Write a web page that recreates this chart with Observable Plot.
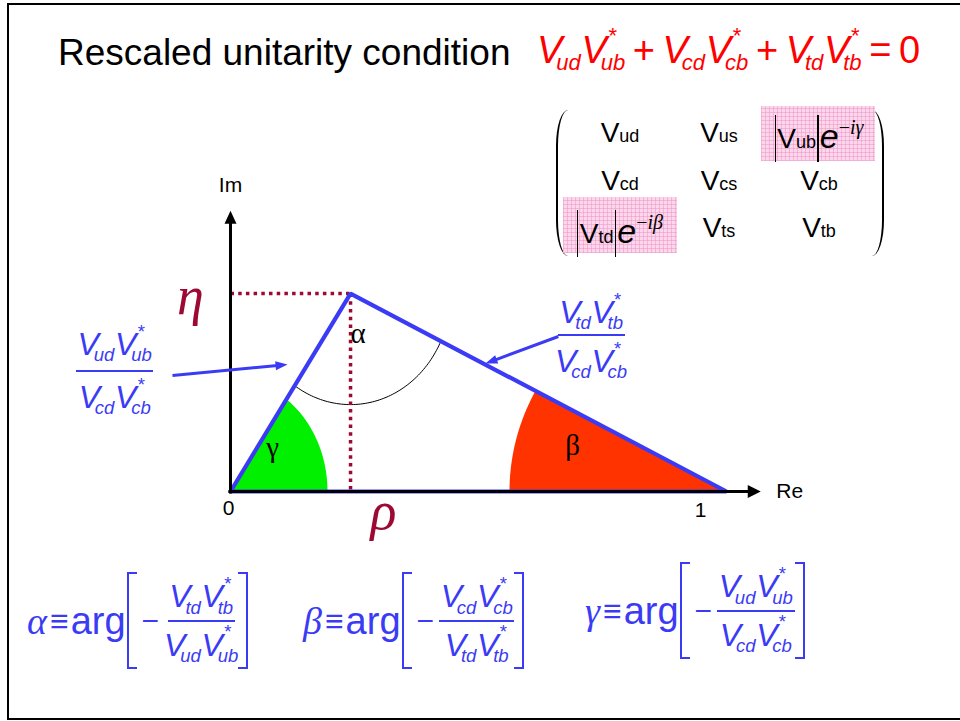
<!DOCTYPE html>
<html>
<head>
<meta charset="utf-8">
<script src="https://cdn.jsdelivr.net/npm/d3@7"></script>
<script src="https://cdn.jsdelivr.net/npm/@observablehq/plot@0.6"></script>
<style>
  html, body { margin: 0; padding: 0; background: #fff; }
  #slide { position: relative; width: 960px; height: 721px; overflow: hidden;
           font-family: "Liberation Sans", Arial, sans-serif; color: #000; }
  #frame { position: absolute; left: 7px; top: 3px; width: 990px; height: 717px;
           border: 2px solid #000; box-sizing: border-box; }
  #chart { position: absolute; left: 0; top: 0; }
  .t { position: absolute; white-space: nowrap; line-height: 1; }
  #title { left: 58px; top: 34px; font-size: 37px; }

  /* products of CKM elements: V_ab V*_cd */
  .vv i { font-style: italic; }
  .sb { font-style: italic; font-size: .58em; vertical-align: -.33em; margin-left: -.28em; line-height: 0; }
  .v2 { margin-left: .02em; }
  .st { display: inline-block; width: 0; font-style: normal; vertical-align: 1.25em;
        position: relative; left: .35em; line-height: 0; }
  .op { margin: 0 .2em; }
  .frac { display: inline-flex; flex-direction: column; align-items: center; vertical-align: middle; line-height: 1; }
  .frac .n { border-bottom: 2px solid currentColor; padding: 0 .05em .3em; }
  .frac .d { padding-top: .3em; }

  #cond { left: 537px; top: 31px; font-size: 38px; color: #ff0000; }
  #lblL { left: 76px; top: 328px; font-size: 32px; color: #3b3bf5; }
  #lblR { left: 555px; top: 296px; font-size: 32px; color: #3b3bf5; }
  #lblR .frac .n { padding-bottom: .2em; }
  #lblR .frac .d { padding-top: .28em; }

  /* CKM matrix */
  .par { position: absolute; top: 110px; height: 146px; width: 12px; border: 0 solid #000; box-sizing: border-box; }
  .par.l { left: 556px; border-left-width: 2px; border-radius: 12px 0 0 12px / 36px 0 0 36px; }
  .par.r { left: 872px; border-right-width: 2px; border-radius: 0 12px 12px 0 / 0 36px 36px 0; }
  .pink { position: absolute; background-color: #fcd6eb;
          background-image: repeating-linear-gradient(0deg, rgba(235,140,195,.45) 0 1px, transparent 1px 4px),
                            repeating-linear-gradient(90deg, rgba(235,140,195,.45) 0 1px, transparent 1px 4px); }
  .cell { position: absolute; width: 140px; margin-left: -70px; text-align: center; font-size: 28px; line-height: 1; white-space: nowrap; }
  .cs { font-size: 18px; }
  .abs { position: relative; padding: 0 .1em; }
  .abs::before, .abs::after { content: ""; position: absolute; top: -.3em; bottom: -.3em; width: 1.5px; background: #000; }
  .abs::before { left: 0; } .abs::after { right: 0; }
  .e { font-style: italic; font-size: 34px; margin-left: 1px; }
  .ph { font-family: "Liberation Serif", serif; font-size: 20px; vertical-align: .7em; line-height: 0; }
  .ph i { font-style: italic; }

  /* angle definitions */
  .def { position: absolute; display: flex; align-items: center; color: #3b3bf5; white-space: nowrap; line-height: 1; }
  .def .g { font-family: "Liberation Serif", serif; font-style: italic; font-size: 38px; }
  .def .eq { font-size: 32px; margin: 0 2px 0 3px; }
  .def .arg { font-size: 38px; margin-right: 1px; }
  .def .br { display: inline-block; width: 10px; height: 97px; border: 2px solid currentColor; box-sizing: border-box; }
  .def .br.l { border-right: none; }
  .def .br.r { border-left: none; }
  .def .mn { font-size: 30px; margin: 0 5px 0 5px; }
  .def .frac { font-size: 32px; }
  .def .frac .n { padding-bottom: .22em; }
  .def .frac .d { padding-top: .22em; }
</style>
</head>
<body>
<div id="slide">
  <div id="frame"></div>
  <div id="chart"></div>
  <div id="title" class="t">Rescaled unitarity condition</div>
  <div id="cond" class="t"></div>
  <div id="matrix"></div>
  <div id="lblL" class="t"></div>
  <div id="lblR" class="t"></div>
  <div id="defs"></div>
</div>
<script>
// ---- values ----------------------------------------------------------
// triangle vertices in the complex plane: 0, (rho, eta), 1
const vertexRe = [0, 0.242, 1];
const vertexIm = [0, 0.399, 0];
const tickRe = [0, 1];
const tickText = ["0", "1"];
const axisText = ["Re", "Im"];
// angle letters and where they sit inside the triangle
const angleLetters = ["α", "β", "γ"];
const angleLabelRe = [0.257, 0.690, 0.085];
const angleLabelIm = [0.318, 0.093, 0.089];
// pointers from the side labels to the sides (start, tip)
const pointerStartRe = [-0.117, 0.661];
const pointerStartIm = [0.234, 0.3125];
const pointerTipRe = [0.115, 0.514];
const pointerTipIm = [0.256, 0.258];
// CKM matrix entries (row quark + column quark) and the two phases
const ckmRows = [["ud", "us", "ub"], ["cd", "cs", "cb"], ["td", "ts", "tb"]];
const ckmPhase = [[null, null, "γ"], [null, null, null], ["β", null, null]];
// unitarity condition terms
const condTerms = [["ud", "ub"], ["cd", "cb"], ["td", "tb"]];
// side labels: numerator / denominator products
const sideLabels = [
  {id: "lblL", num: ["ud", "ub"], den: ["cd", "cb"]},
  {id: "lblR", num: ["td", "tb"], den: ["cd", "cb"]}
];
// angle definitions: angle = arg[-num/den]
const angleDefs = [
  {angle: "α", num: ["td", "tb"], den: ["ud", "ub"], left: 27, top: 572},
  {angle: "β", num: ["cd", "cb"], den: ["td", "tb"], left: 303, top: 572},
  {angle: "γ", num: ["ud", "ub"], den: ["cd", "cb"], left: 585, top: 562}
];

// ---- colours ----------------------------------------------------------
const blue = "#3b3bf5", darkRed = "#9c0a33", green = "#00f000", orange = "#ff3300";

// ---- math text helpers -----------------------------------------------
const vv = ([a, b]) =>
  `<span class="vv"><i>V</i><span class="sb">${a}</span><i class="v2">V</i><span class="sb"><span class="st">*</span>${b}</span></span>`;
const frac = (num, den) =>
  `<span class="frac"><span class="n">${vv(num)}</span><span class="d">${vv(den)}</span></span>`;

document.getElementById("cond").innerHTML =
  condTerms.map(vv).join('<span class="op">+</span>') + '<span class="op">=</span>0';

for (const s of sideLabels) document.getElementById(s.id).innerHTML = frac(s.num, s.den);

document.getElementById("defs").innerHTML = angleDefs.map(d =>
  `<div class="def" style="left:${d.left}px;top:${d.top}px"><span class="g">${d.angle}</span><span class="eq">≡</span><span class="arg">arg</span><span class="br l"></span><span class="mn">−</span>${frac(d.num, d.den)}<span class="br r"></span></div>`
).join("");

// CKM matrix layout
const colX = [620, 719, 819], rowBase = [143, 191, 238];
let mhtml = '<div class="par l"></div><div class="par r"></div>';
mhtml += '<div class="pink" style="left:761px;top:106px;width:114px;height:55px"></div>';
mhtml += '<div class="pink" style="left:563px;top:197px;width:114px;height:56px"></div>';
ckmRows.forEach((row, i) => row.forEach((q, j) => {
  const ph = ckmPhase[i][j];
  const body = ph
    ? `<span class="abs">V<span class="cs">${q}</span></span><i class="e">e</i><span class="ph">−<i>i${ph}</i></span>`
    : `V<span class="cs">${q}</span>`;
  mhtml += `<div class="cell" style="left:${colX[j]}px;top:${rowBase[i] - 24}px">${body}</div>`;
}));
document.getElementById("matrix").innerHTML = mhtml;

// ---- the triangle in the complex plane --------------------------------
const U = 496;                 // pixels per unit on both axes
const W = 960, H = 721, ox = 230, oy = 491;
const tri = vertexRe.map((re, i) => ({re, im: vertexIm[i]}));
const [O, A, B] = tri;
const axisEnd = {re: 1.069, im: 0.566};

// elliptical arc around centre c between the rays at angles phi0 and phi1
const rayT = (phi, rx, ry) => Math.atan2(rx * Math.sin(phi), ry * Math.cos(phi));
function arc(c, rx, ry, phi0, phi1, n = 72) {
  const t0 = rayT(phi0, rx, ry), t1 = rayT(phi1, rx, ry);
  return d3.range(n + 1).map(i => {
    const t = t0 + (t1 - t0) * i / n;
    return {re: c.re + rx * Math.cos(t), im: c.im + ry * Math.sin(t)};
  });
}
const dir = (p, q) => Math.atan2(q.im - p.im, q.re - p.re);
const gammaWedge = [O, ...arc(O, 97 / U, 113 / U, 0, dir(O, A)), O];
const betaWedge = [B, ...arc(B, 217 / U, 212 / U, Math.PI, dir(B, A)), B];
const alphaArc = arc(A, 100 / U, 111 / U, dir(A, O), dir(A, B));

// filled arrow head with its tip at (x2, y2)
function head(x1, y1, x2, y2, len, half, id) {
  const d = Math.hypot(x2 - x1, y2 - y1), ux = (x2 - x1) / d, uy = (y2 - y1) / d;
  const bx = x2 - ux * len, by = y2 - uy * len;
  return [{re: x2, im: y2, id}, {re: bx - uy * half, im: by + ux * half, id},
          {re: bx + uy * half, im: by - ux * half, id}, {re: x2, im: y2, id}];
}
const axisHeads = [
  ...head(0, 0, axisEnd.re, 0, 13 / U, 6.5 / U, "re"),
  ...head(0, 0, 0, axisEnd.im, 13 / U, 6 / U, "im")
];
const axisLines = [
  {x1: -2 / U, y1: 0, x2: axisEnd.re - 12 / U, y2: 0},
  {x1: 0, y1: -2 / U, x2: 0, y2: axisEnd.im - 12 / U}
];
const pointers = pointerTipRe.map((re, i) => ({
  x1: pointerStartRe[i], y1: pointerStartIm[i], x2: re, y2: pointerTipIm[i]
}));
const pointerHeads = pointers.flatMap((p, i) => head(p.x1, p.y1, p.x2, p.y2, 12 / U, 4.5 / U, i));
const pointerShafts = pointers.map(p => {
  const d = Math.hypot(p.x2 - p.x1, p.y2 - p.y1);
  return {...p, x2: p.x2 - (p.x2 - p.x1) / d * 10 / U, y2: p.y2 - (p.y2 - p.y1) / d * 10 / U};
});
const dotted = [
  {x1: 0, y1: A.im, x2: A.re, y2: A.im},
  {x1: A.re, y1: A.im, x2: A.re, y2: 0}
];
const angleLabels = angleLetters.map((t, i) => ({t, re: angleLabelRe[i], im: angleLabelIm[i]}));

const chart = Plot.plot({
  width: W, height: H, margin: 0,
  x: {domain: [-ox / U, (W - ox) / U], range: [0, W], axis: null},
  y: {domain: [-(H - oy) / U, oy / U], range: [H, 0], axis: null},
  style: {background: "transparent", fontFamily: "Liberation Sans, Arial, sans-serif", overflow: "visible"},
  marks: [
    Plot.line(gammaWedge, {x: "re", y: "im", fill: green, stroke: "none"}),
    Plot.line(betaWedge, {x: "re", y: "im", fill: orange, stroke: "none"}),
    Plot.line(alphaArc, {x: "re", y: "im", stroke: "#000", strokeWidth: 1}),
    Plot.link(dotted, {x1: "x1", y1: "y1", x2: "x2", y2: "y2", stroke: darkRed, strokeWidth: 3.5,
                       strokeDasharray: "3.5,4.2", strokeLinecap: "butt"}),
    Plot.line([...tri, O], {x: "re", y: "im", stroke: blue, strokeWidth: 4.2, strokeLinejoin: "miter"}),
    Plot.link(axisLines, {x1: "x1", y1: "y1", x2: "x2", y2: "y2", stroke: "#000", strokeWidth: 3}),
    Plot.line(axisHeads, {x: "re", y: "im", z: "id", fill: "#000", stroke: "none"}),
    Plot.link(pointerShafts, {x1: "x1", y1: "y1", x2: "x2", y2: "y2", stroke: blue, strokeWidth: 3}),
    Plot.line(pointerHeads, {x: "re", y: "im", z: "id", fill: blue, stroke: "none"}),
    Plot.text(angleLabels, {x: "re", y: "im", text: "t", fontFamily: "Liberation Serif, serif", fontSize: 29, fill: "#000"}),
    Plot.text([tickRe[0]], {x: d => d, y: 0, text: () => tickText[0], dx: -2, dy: 17, fontSize: 21, fill: "#000"}),
    Plot.text([tickRe[1]], {x: d => d, y: 0, text: () => tickText[1], dx: -26, dy: 19, fontSize: 21, fill: "#000"}),
    Plot.text([axisEnd], {x: "re", y: 0, text: () => axisText[0], dx: 29, fontSize: 21, fill: "#000"}),
    Plot.text([axisEnd], {x: 0, y: "im", text: () => axisText[1], dy: -25, fontSize: 21, fill: "#000"}),
    Plot.text([A], {x: 0, y: "im", text: () => "η", dx: -40, dy: 3, fontFamily: "Liberation Serif, serif",
                    fontStyle: "italic", fontSize: 54, fill: darkRed}),
    Plot.text([A], {x: "re", y: 0, text: () => "ρ", dx: 33, dy: 20, fontFamily: "Liberation Serif, serif",
                    fontStyle: "italic", fontSize: 54, fill: darkRed})
  ]
});
document.getElementById("chart").appendChild(chart);
</script>
</body>
</html>
